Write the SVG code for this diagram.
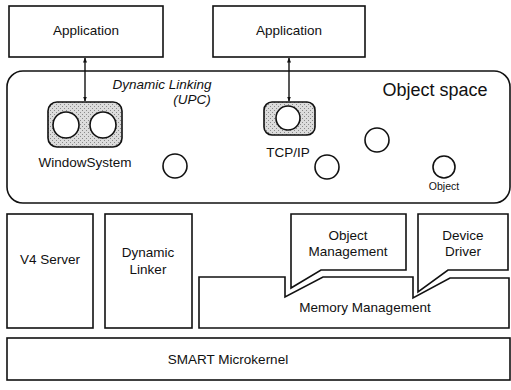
<svg xmlns="http://www.w3.org/2000/svg" width="511" height="390" viewBox="0 0 511 390">
<defs>
<style>
.box{fill:#fff;stroke:#111;stroke-width:1.6}
.shade{fill:url(#stip);stroke:#111;stroke-width:1.6}
.obj{fill:#fff;stroke:#111;stroke-width:1.6}
.t{font-family:"Liberation Sans",Arial,sans-serif;font-size:13.5px;fill:#111;text-anchor:middle}
.it{font-style:italic}
.conn{stroke:#111;stroke-width:1.4;fill:none;marker-start:url(#ah);marker-end:url(#ah)}
</style>
<pattern id="stip" width="4" height="4" patternUnits="userSpaceOnUse">
<rect width="4" height="4" fill="#dcdcdc"/>
<rect x="0" y="0" width="1" height="1" fill="#8a8a8a"/>
<rect x="2" y="2" width="1" height="1" fill="#8a8a8a"/>
</pattern>
<marker id="ah" viewBox="0 0 10 10" refX="9" refY="5" markerWidth="5" markerHeight="5" orient="auto-start-reverse" markerUnits="userSpaceOnUse">
<path d="M0,1 L10,5 L0,9 Z" fill="#111"/>
</marker>
</defs>
<rect width="511" height="390" fill="#fff"/>

<g id="app1"><rect class="box" x="9" y="6" width="154" height="51"/><text class="t" x="86" y="35">Application</text></g>
<g id="app2"><rect class="box" x="213" y="6" width="152" height="51"/><text class="t" x="289" y="35">Application</text></g>

<g id="objectspace">
<rect class="box" x="7" y="71" width="503" height="132" rx="16" ry="16"/>
<text class="t" x="435" y="96" style="font-size:18px">Object space</text>
<text class="t it" x="162" y="89">Dynamic Linking</text>
<text class="t it" x="192" y="104">(UPC)</text>
</g>

<g id="windowsystem">
<rect class="shade" x="48" y="102" width="74" height="45" rx="9" ry="9"/>
<circle class="obj" cx="66" cy="125" r="13"/>
<circle class="obj" cx="103" cy="125" r="13"/>
<text class="t" x="85" y="167">WindowSystem</text>
</g>

<g id="tcpip">
<rect class="shade" x="264" y="102" width="51" height="33" rx="8" ry="8"/>
<circle class="obj" cx="288" cy="118" r="12"/>
<text class="t" x="288" y="157">TCP/IP</text>
</g>

<g id="obj1"><circle class="obj" cx="175" cy="166" r="12"/></g>
<g id="obj2"><circle class="obj" cx="327" cy="167" r="12"/></g>
<g id="obj3"><circle class="obj" cx="377" cy="140" r="12"/></g>
<g id="obj4"><circle class="obj" cx="444" cy="167" r="11"/><text class="t" x="444" y="190" style="font-size:10.5px">Object</text></g>

<g id="v4server"><rect class="box" x="7" y="214" width="86" height="114"/><text class="t" x="50" y="264">V4 Server</text></g>
<g id="dynamiclinker"><rect class="box" x="105" y="214" width="87" height="114"/><text class="t" x="148" y="257">Dynamic</text><text class="t" x="148" y="274">Linker</text></g>

<g id="memorymanagement">
<path class="box" d="M199,277 H285 V297 L323,277 H413 V298 L450,278 H509 V328 H199 Z"/>
<text class="t" x="365" y="312">Memory Management</text>
</g>
<g id="objectmanagement">
<path class="box" d="M291,214 H406 V270 H321 L291,288 Z"/>
<text class="t" x="348" y="240">Object</text><text class="t" x="348" y="256">Management</text>
</g>
<g id="devicedriver">
<path class="box" d="M418,214 H508 V270 H448 L418,292 Z"/>
<text class="t" x="463" y="240">Device</text><text class="t" x="463" y="256">Driver</text>
</g>

<g id="microkernel"><rect class="box" x="7" y="338" width="503" height="42"/><text class="t" x="228" y="364">SMART Microkernel</text></g>

<g id="connectors">
<line class="conn" x1="85" y1="58" x2="85" y2="101"/>
<line class="conn" x1="289" y1="58" x2="289" y2="101"/>
</g>
</svg>
